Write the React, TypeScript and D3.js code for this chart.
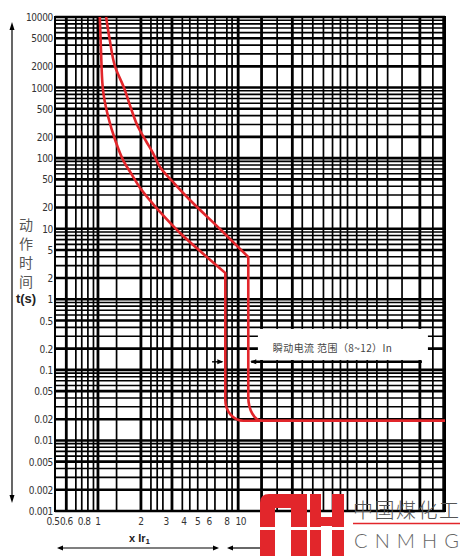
import { useEffect, useRef } from 'react'
import * as d3 from 'd3'

// time axis (s) and current axis (x Ir1)
const yTicks = [10000, 5000, 2000, 1000, 500, 200, 100, 50, 20, 10, 5, 2, 1, 0.5, 0.2, 0.1, 0.05, 0.02, 0.01, 0.005, 0.002, 0.001]
const xTicks = [0.5, 0.6, 0.8, 1, 2, 3, 4, 5, 6, 8, 10]

// vertical rulings as they appear on the printed sheet
const gridX = [0.6, 0.7, 0.77, 0.85, 0.93, 1, 1.35, 2, 2.35, 2.6, 2.85, 3.3, 3.9, 4.4, 5, 5.8, 6.6, 8, 8.7, 9.6,
  14, 18, 23, 27, 32, 38, 44, 50, 56, 65, 77, 90, 107, 135, 180, 222, 262]
const gridXBold = [0.6, 1, 2, 3.3, 9.6, 14, 23, 180]

// lower bound of the tripping band (overload part)
const lowerI = [1.03, 1.05, 1.08, 1.18, 1.32, 1.5, 1.73, 1.97, 2.72, 3.76, 5.19, 7.8]
const lowerT = [10000, 3400, 1000, 383, 181, 94, 58, 38, 17.3, 8.7, 4.83, 2.36]
// upper bound
const upperI = [1.14, 1.21, 1.32, 1.52, 1.7, 1.91, 2.17, 2.43, 2.72, 3.46, 4.41, 7.16, 11.3]
const upperT = [10000, 4700, 1960, 1000, 514, 276, 175, 118, 75, 43, 25.5, 9.9, 3.97]

const instTime = 0.019 // instantaneous trip time
const iMax = 270

const W = 464
const H = 560
const RED = '#e2262b'
const NARROW = "'Liberation Sans Narrow', 'Arial Narrow', 'DejaVu Sans Condensed', sans-serif"

export default function App() {
  const svgRef = useRef<SVGSVGElement | null>(null)

  useEffect(() => {
    if (!svgRef.current) return
    const svg = d3.select(svgRef.current)
    svg.selectAll('*').remove()

    const m = { left: 55, right: 445, top: 17, bottom: 511 }
    const x = d3.scaleLog().domain([0.5, iMax]).range([m.left, m.right])
    const y = d3.scaleLog().domain([0.001, 10000]).range([m.bottom, m.top])

    svg.append('rect').attr('width', W).attr('height', H).attr('fill', '#fff')

    // horizontal rulings
    const hLines = y.ticks()
    svg.append('g').selectAll('line').data(hLines).join('line')
      .attr('x1', m.left).attr('x2', m.right)
      .attr('y1', d => y(d)).attr('y2', d => y(d))
      .attr('stroke', '#000')
      .attr('stroke-width', d => {
        const lead = +d.toExponential().charAt(0)
        return lead === 1 || lead === 2 || lead === 5 ? 2.6 : 1.6
      })

    // vertical rulings
    svg.append('g').selectAll('line').data(gridX).join('line')
      .attr('x1', d => x(d)).attr('x2', d => x(d))
      .attr('y1', m.top).attr('y2', m.bottom)
      .attr('stroke', '#000')
      .attr('stroke-width', d => gridXBold.includes(d) ? 2.8 : 1.7)

    svg.append('rect')
      .attr('x', m.left).attr('y', m.top)
      .attr('width', m.right - m.left).attr('height', m.bottom - m.top)
      .attr('fill', 'none').attr('stroke', '#000').attr('stroke-width', 2)

    // tick labels
    svg.append('g').selectAll('text').data(yTicks).join('text')
      .attr('x', 53).attr('y', d => y(d) + 4)
      .attr('text-anchor', 'end')
      .attr('font-family', NARROW).attr('font-size', 10).attr('letter-spacing', -0.3).attr('fill', '#333')
      .text(d => String(d))

    svg.append('g').selectAll('text').data(xTicks).join('text')
      .attr('x', d => x(d) + (d === 0.5 ? -2 : 0)).attr('y', 525)
      .attr('text-anchor', 'middle')
      .attr('font-family', NARROW).attr('font-size', 10).attr('letter-spacing', -0.5).attr('fill', '#333')
      .text(d => String(d))

    // tripping curves
    const line = d3.line<[number, number]>()
      .x(d => x(d[0])).y(d => y(d[1]))
      .curve(d3.curveMonotoneY)

    const band = (I: number[], T: number[], rx: number, ry: number) => {
      const pts = I.map((v, i) => [v, T[i]] as [number, number])
      const xv = x(I[I.length - 1])
      const yf = y(instTime)
      return line(pts) +
        `L${xv},${yf - ry}` +
        `A${rx},${ry} 0 0 0 ${xv + rx},${yf}` +
        `L${x(iMax)},${yf}`
    }

    svg.append('path').attr('d', band(lowerI, lowerT, 18, 21))
      .attr('fill', 'none').attr('stroke', RED).attr('stroke-width', 2.6)
    svg.append('path').attr('d', band(upperI, upperT, 14, 24))
      .attr('fill', 'none').attr('stroke', RED).attr('stroke-width', 2.6)

    // annotation for the instantaneous range
    const lowTrip = lowerI[lowerI.length - 1]
    const upTrip = upperI[upperI.length - 1]
    svg.append('rect')
      .attr('x', x(13.2)).attr('y', y(0.38))
      .attr('width', x(205) - x(13.2)).attr('height', y(0.138) - y(0.38))
      .attr('fill', '#fff')
    svg.append('text')
      .attr('x', x(16.8)).attr('y', y(0.2) + 3)
      .attr('font-family', "'Noto Sans CJK SC', sans-serif").attr('font-size', 10).attr('fill', '#444')
      .attr('letter-spacing', 0.4)
      .text('瞬动电流 范围（8~12）In')

    const ay = y(0.13)
    const arrowHead = (tipX: number, tipY: number, dir: number) =>
      `M${tipX},${tipY}L${tipX - dir * 6},${tipY - 2.5}L${tipX - dir * 6},${tipY + 2.5}Z`
    const ann = svg.append('g')
    ann.append('line').attr('x1', x(6.3)).attr('x2', x(lowTrip) - 3).attr('y1', ay).attr('y2', ay)
      .attr('stroke', '#000').attr('stroke-width', 1.4)
    ann.append('path').attr('d', arrowHead(x(lowTrip) - 2, ay, 1)).attr('fill', '#000')
    ann.append('line').attr('x1', x(upTrip) + 3).attr('x2', x(186)).attr('y1', ay).attr('y2', ay)
      .attr('stroke', '#000').attr('stroke-width', 2.4)
    ann.append('path').attr('d', arrowHead(x(upTrip) + 2, ay, -1)).attr('fill', '#000')

    // left axis arrow
    const la = svg.append('g')
    la.append('line').attr('x1', 12).attr('x2', 12).attr('y1', 28).attr('y2', 497)
      .attr('stroke', '#000').attr('stroke-width', 1.2)
    la.append('path').attr('d', 'M12,22L9.5,30L14.5,30Z').attr('fill', '#000')
    la.append('path').attr('d', 'M12,503L9.5,495L14.5,495Z').attr('fill', '#000')

    // bottom arrows
    const by = 548
    const ba = svg.append('g')
    ba.append('line').attr('x1', 60).attr('x2', 216).attr('y1', by).attr('y2', by)
      .attr('stroke', '#000').attr('stroke-width', 1.2)
    ba.append('path').attr('d', arrowHead(57, by, -1)).attr('fill', '#000')
    ba.append('path').attr('d', arrowHead(219, by, 1)).attr('fill', '#000')
    ba.append('line').attr('x1', 230).attr('x2', 262).attr('y1', by).attr('y2', by)
      .attr('stroke', '#000').attr('stroke-width', 1.2)
    ba.append('path').attr('d', arrowHead(227, by, -1)).attr('fill', '#000')

    // axis titles
    const yt = svg.append('g').attr('font-family', "'Noto Sans CJK SC', sans-serif")
      .attr('font-size', 14).attr('fill', '#555').attr('text-anchor', 'middle')
    ;['动', '作', '时', '间'].forEach((c, i) => {
      yt.append('text').attr('x', 26).attr('y', 230 + i * 19).text(c)
    })
    svg.append('text').attr('x', 26).attr('y', 303).attr('text-anchor', 'middle')
      .attr('font-family', 'Arial, Liberation Sans, sans-serif').attr('font-weight', 'bold')
      .attr('font-size', 13).attr('fill', '#222').text('t(s)')

    const xt = svg.append('text').attr('x', 129).attr('y', 542)
      .attr('font-family', 'Arial, Liberation Sans, sans-serif').attr('font-weight', 'bold')
      .attr('font-size', 11).attr('fill', '#222')
    xt.append('tspan').text('x Ir')
    xt.append('tspan').attr('font-size', 8).attr('dy', 2).text('1')

    // logo
    const logo = svg.append('g').attr('fill', RED)
    logo.append('path').attr('d', 'M260,556V503Q260,494 269,494H307V556H291V508H275V556Z')
    logo.append('rect').attr('x', 310).attr('y', 494).attr('width', 11).attr('height', 62)
    logo.append('rect').attr('x', 332).attr('y', 494).attr('width', 12).attr('height', 62)
    logo.append('rect').attr('x', 310).attr('y', 517).attr('width', 34).attr('height', 9)
    svg.append('rect').attr('x', 258).attr('y', 527).attr('width', 90).attr('height', 3).attr('fill', '#fff')

    svg.append('text').attr('x', 353).attr('y', 518)
      .attr('font-family', "'Noto Sans CJK SC', sans-serif").attr('font-weight', 300)
      .attr('font-size', 20).attr('textLength', 106).attr('lengthAdjust', 'spacing')
      .attr('fill', '#555').text('中国煤化工')
    svg.append('line').attr('x1', 353).attr('x2', 460).attr('y1', 523.5).attr('y2', 523.5)
      .attr('stroke', RED).attr('stroke-width', 1.5)
    svg.append('text').attr('x', 354).attr('y', 548)
      .attr('font-family', "Lato, 'Noto Sans', sans-serif").attr('font-weight', 300)
      .attr('font-size', 20).attr('textLength', 105).attr('lengthAdjust', 'spacing')
      .attr('fill', '#666').text('CNMHG')
  }, [])

  return (
    <div style={{ position: 'absolute', left: 0, top: 0, width: W, height: H }}>
      <svg ref={svgRef} width={W} height={H} style={{ display: 'block' }} />
    </div>
  )
}
